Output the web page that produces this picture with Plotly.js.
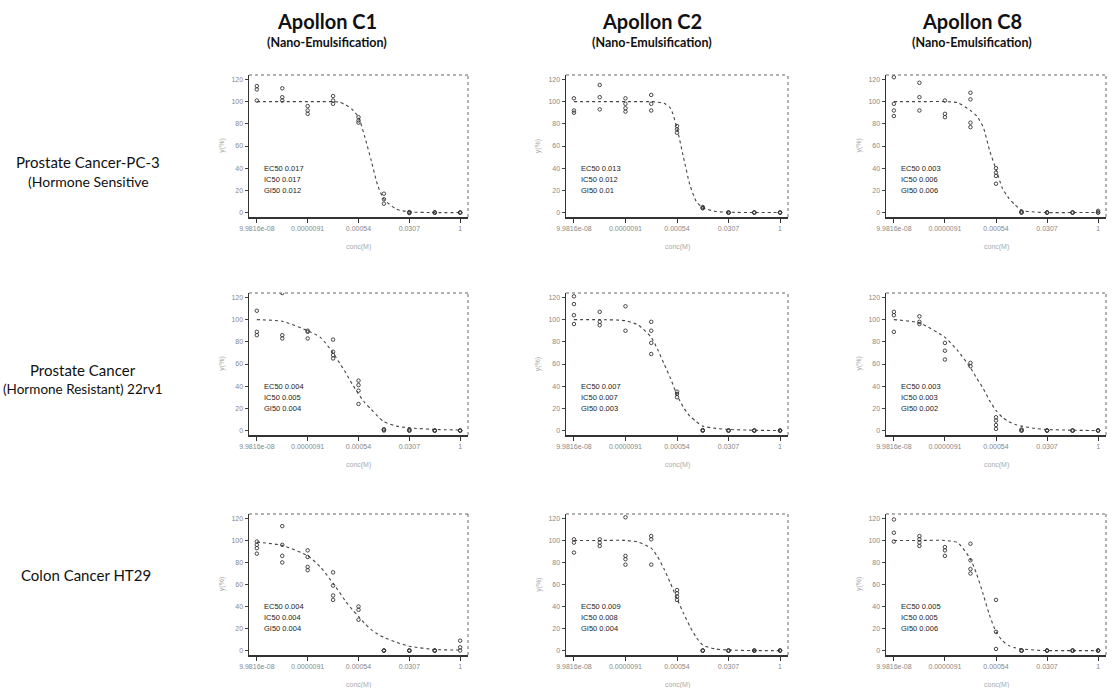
<!DOCTYPE html>
<html><head><meta charset="utf-8">
<script src="https://cdn.plot.ly/plotly-3.0.1.min.js"></script>
<style>html,body{margin:0;padding:0;background:#fff}#chart{width:1112px;height:688px}</style>
</head><body><div id="chart"></div>
<script>
// ---------- DATA ----------
const compounds = ["Apollon C1", "Apollon C2", "Apollon C8"];
const formulation = "(Nano-Emulsification)";
const cellLineMain = ["Prostate Cancer-PC-3", "Prostate Cancer", "Colon Cancer HT29"];
const cellLineSub = ["(Hormone Sensitive", "(Hormone Resistant) 22rv1", ""];

const doses = [9.98e-8, 7.49e-7, 5.61e-6, 4.21e-5, 3.158e-4, 2.369e-3, 0.01777, 0.1333, 1];
const xTickIdx = [0, 2, 4, 6, 8];
const xTickText = ["9.9816e-08", "0.0000091", "0.00054", "0.0307", "1"];
const yTicks = [0, 20, 40, 60, 80, 100, 120];
const xTitle = "conc(M)";
const yTitle = "y(%)";

// fitted curve read at these doses
const curveDose = [9.98e-8, 7.49e-7, 5.61e-6, 1.537e-5, 4.21e-5, 6.97e-5, 1.153e-4, 1.908e-4, 3.158e-4,
                   5.227e-4, 8.65e-4, 1.432e-3, 2.369e-3, 6.49e-3, 0.01777, 0.1333, 1];

// observations, one list per dose (row r, column c)
const pts_r1c1 = [[114,111,101],[112,104,101],[96,92,89],[105,101,98],[86,83,81],[17,12,8],[0.5,0,-0.5],[0,0,0],[0,0,0]];
const pts_r1c2 = [[103,92,90],[115,104,93],[103,98,94,91],[106,98,92],[78,75,72],[5,4,4],[0,0,0],[0,0,0],[0,0,0]];
const pts_r1c3 = [[122,98,92,87],[117,104,92],[101,89,86],[108,102,81,77],[40,36,33,26],[1,0,0],[0,0,0],[0,0,0],[1.5,0,0]];
const pts_r2c1 = [[108,89,86],[124,86,83],[90,89,83],[82,71,68,65],[45,41,36,24],[1,1,0],[1,0,0],[0,0,0],[0,0,0]];
const pts_r2c2 = [[121,114,104,96],[107,98,95],[112,90],[98,90,79,69],[35,33,30],[0.5,0,0],[0,0,0],[0,0,0],[0,0,0]];
const pts_r2c3 = [[107,104,89],[103,98,96],[79,72,64],[61,58],[12,9,5,1.5],[1,0,0],[0,0,0],[0,0,0],[0,0,0]];
const pts_r3c1 = [[99,96,93,88],[113,96,86,80],[91,85,76,73],[71,59,50,46],[40,37,28],[0,0,0],[0,0,0],[0,0,0],[9,3,0]];
const pts_r3c2 = [[101,98,89],[101,98,95],[121,86,83,78],[104,101,78],[55,52,49,46],[0,0,0],[0,0,0],[0,0,0],[0,0,0]];
const pts_r3c3 = [[119,107,99],[104,101,98,95],[94,91,86],[97,82,74,70],[46,17,1.5],[0,0,0],[0,0,0],[0,0,0],[0,0,0]];

const curve_r1c1 = [100,100,100,100,100,99.5,97,93,86,68,47,25,12,3,0.6,0,0];
const curve_r1c2 = [100,100,100,100,100,99.5,98.5,94,76,50,25,10,4.5,1,0.3,0,0];
const curve_r1c3 = [100,100,100,99,92,87,77,56,39,22,13,7,2,0.5,0,0,0];
const curve_r2c1 = [100,98.5,90,84,70,61,52,42,33,25,19,13,8,4,2.4,1,0.5];
const curve_r2c2 = [100,100,99,95,84,73,60,47,32,21,13,8,4,2,1,0.3,0];
const curve_r2c3 = [100,97,84,72,56.6,47,38,27,18,12,8,5.5,4,2,1,0.3,0];
const curve_r3c1 = [98.5,95.5,86,76,61,53,44.5,37.5,31,24.5,19,15,12,7.5,4,1,0.5];
const curve_r3c2 = [100,100,100,98.5,93,85,74,61,47,34,22,12,5,1.5,0.5,0,0];
const curve_r3c3 = [100,100,100,98,83,69,51,32,17,9,4.5,2.5,1.5,0.5,0,0,0];

const stats_r1c1 = ["EC50 0.017", "IC50 0.017", "GI50 0.012"];
const stats_r1c2 = ["EC50 0.013", "IC50 0.012", "GI50 0.01"];
const stats_r1c3 = ["EC50 0.003", "IC50 0.006", "GI50 0.006"];
const stats_r2c1 = ["EC50 0.004", "IC50 0.005", "GI50 0.004"];
const stats_r2c2 = ["EC50 0.007", "IC50 0.007", "GI50 0.003"];
const stats_r2c3 = ["EC50 0.003", "IC50 0.003", "GI50 0.002"];
const stats_r3c1 = ["EC50 0.004", "IC50 0.004", "GI50 0.004"];
const stats_r3c2 = ["EC50 0.009", "IC50 0.008", "GI50 0.004"];
const stats_r3c3 = ["EC50 0.005", "IC50 0.005", "GI50 0.006"];

// ---------- LAYOUT ----------
const W = 1112, H = 688;
const colPx = [[249, 468], [566, 788], [886, 1106]];
const rowPx = [[75, 217], [293, 435], [514, 655]];
const titleCx = [327, 652, 972];

const panels = [
  [pts_r1c1, curve_r1c1, stats_r1c1], [pts_r1c2, curve_r1c2, stats_r1c2], [pts_r1c3, curve_r1c3, stats_r1c3],
  [pts_r2c1, curve_r2c1, stats_r2c1], [pts_r2c2, curve_r2c2, stats_r2c2], [pts_r2c3, curve_r2c3, stats_r2c3],
  [pts_r3c1, curve_r3c1, stats_r3c1], [pts_r3c2, curve_r3c2, stats_r3c2], [pts_r3c3, curve_r3c3, stats_r3c3]
];

const traces = [];
const layout = {
  width: W, height: H, margin: {l: 0, r: 0, t: 0, b: 0},
  paper_bgcolor: '#fff', plot_bgcolor: '#fff', showlegend: false,
  font: {family: 'Liberation Sans, Arial, sans-serif', color: '#333'},
  shapes: [], annotations: []
};
const tickVals = xTickIdx.map(i => doses[i]);
const xr = [Math.log10(doses[0]) - 0.27, Math.log10(doses[doses.length - 1]) + 0.27];

panels.forEach((p, k) => {
  const r = Math.floor(k / 3), c = k % 3;
  const n = k + 1, sfx = n === 1 ? '' : String(n);
  const xa = 'x' + sfx, ya = 'y' + sfx;
  const xs = [], ys = [];
  p[0].forEach((arr, i) => arr.forEach(v => { xs.push(doses[i]); ys.push(v); }));
  traces.push({type: 'scatter', mode: 'lines', x: curveDose, y: p[1], xaxis: xa, yaxis: ya,
    line: {shape: 'spline', smoothing: 0.6, dash: 'dot', width: 1.1, color: '#444'}, hoverinfo: 'skip'});
  traces.push({type: 'scatter', mode: 'markers', x: xs, y: ys, xaxis: xa, yaxis: ya,
    marker: {symbol: 'circle-open', size: 3.5, color: '#333', line: {width: 0.9, color: '#333'}}, hoverinfo: 'skip'});

  layout['xaxis' + sfx] = {
    type: 'log', range: xr, domain: [colPx[c][0] / W, colPx[c][1] / W], anchor: ya,
    tickmode: 'array', tickvals: tickVals, ticktext: xTickText,
    ticks: 'outside', ticklen: 4, tickwidth: 1, tickcolor: '#333',
    showline: true, linecolor: '#333', linewidth: 1.5, showgrid: false, zeroline: false,
    tickfont: {size: 7, color: '#888'}, fixedrange: true
  };
  layout['yaxis' + sfx] = {
    range: [-4, 124], domain: [1 - rowPx[r][1] / H, 1 - rowPx[r][0] / H], anchor: xa,
    tickmode: 'array', tickvals: yTicks,
    ticks: 'outside', ticklen: 3, tickwidth: 1, tickcolor: '#444',
    showline: true, linecolor: '#333', linewidth: 1.5, showgrid: false, zeroline: false,
    tickfont: {size: 7, color: '#888'}, fixedrange: true
  };
  // dotted top and right frame
  layout.shapes.push({type: 'line', xref: xa + ' domain', yref: ya + ' domain', x0: 0, x1: 1, y0: 1, y1: 1,
    line: {color: '#666', width: 1, dash: 'dot'}});
  layout.shapes.push({type: 'line', xref: xa + ' domain', yref: ya + ' domain', x0: 1, x1: 1, y0: 0, y1: 1,
    line: {color: '#666', width: 1, dash: 'dot'}});
  // axis titles
  layout.annotations.push({xref: xa + ' domain', yref: ya + ' domain', x: 0.5, y: -0.21, text: xTitle,
    showarrow: false, font: {size: 7, color: '#aaa'}, yanchor: 'middle'});
  layout.annotations.push({xref: xa + ' domain', yref: ya + ' domain', x: -0.125, y: 0.5, text: yTitle,
    textangle: -90, showarrow: false, font: {size: 7, color: '#aaa'}, xanchor: 'center'});
  // statistics
  [40, 30, 20].forEach((yv, j) => {
    layout.annotations.push({xref: xa + ' domain', yref: ya, x: 0.06, y: yv, text: p[2][j],
      showarrow: false, xanchor: 'left', yanchor: 'middle', font: {size: 7.5, color: '#222'}});
  });
});

// column titles
compounds.forEach((t, c) => {
  layout.annotations.push({xref: 'paper', yref: 'paper', x: titleCx[c] / W, y: 1 - 21 / H, text: '<b>' + t + '</b>',
    showarrow: false, xanchor: 'center', yanchor: 'middle', font: {family: 'Lato, sans-serif', size: 20, color: '#111'}});
  layout.annotations.push({xref: 'paper', yref: 'paper', x: titleCx[c] / W, y: 1 - 42 / H, text: '<b>' + formulation + '</b>',
    showarrow: false, xanchor: 'center', yanchor: 'middle', font: {family: 'Lato, sans-serif', size: 12.5, color: '#111'}});
});

// row labels
const rowLabelY = [[162, 181], [370, 389], [575, 0]];
const rowLabelX = [88, 83, 86];
cellLineMain.forEach((t, r) => {
  layout.annotations.push({xref: 'paper', yref: 'paper', x: rowLabelX[r] / W, y: 1 - rowLabelY[r][0] / H, text: t,
    showarrow: false, xanchor: 'center', yanchor: 'middle', font: {family: 'Lato, sans-serif', size: 15, color: '#111'}});
  if (cellLineSub[r]) {
    layout.annotations.push({xref: 'paper', yref: 'paper', x: rowLabelX[r] / W, y: 1 - rowLabelY[r][1] / H, text: cellLineSub[r],
      showarrow: false, xanchor: 'center', yanchor: 'middle', font: {family: 'Lato, sans-serif', size: r === 1 ? 13.5 : 14, color: '#111'}});
  }
});

Plotly.newPlot('chart', traces, layout, {staticPlot: true, displayModeBar: false});
</script>
</body></html>
